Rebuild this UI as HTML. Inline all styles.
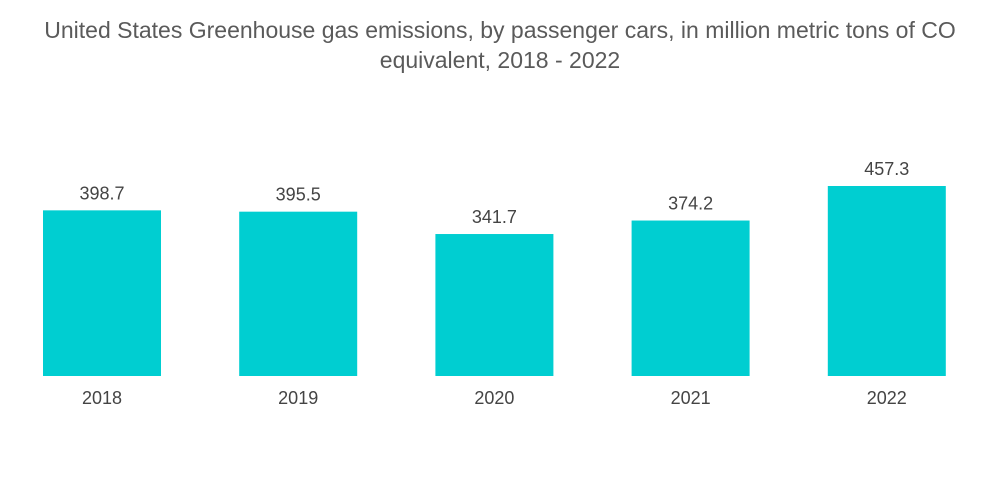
<!DOCTYPE html>
<html><head><meta charset="utf-8"><style>
body{margin:0;background:#fff;width:1000px;height:504px;overflow:hidden;font-family:"Liberation Sans",sans-serif}
#title{position:absolute;left:0;top:15px;width:1000px;text-align:center;color:#5a5a5a;font-size:23px;line-height:30px}
</style></head><body>
<div id="title">United States Greenhouse gas emissions, by passenger cars, in million metric tons of CO<br>equivalent, 2018 - 2022</div>
<svg id="chart" width="1000" height="504" style="position:absolute;left:0;top:0"></svg>
<script>
const categories=["2018","2019","2020","2021","2022"];
const values=[398.7,395.5,341.7,374.2,457.3];
const labels=["398.7","395.5","341.7","374.2","457.3"];
const svg=document.getElementById('chart');
const ns='http://www.w3.org/2000/svg';
const baseY=376,scale=190/457.3,x0=43,step=196.2,bw=118;
function xPos(i){return x0+i*step;}
function yPos(v){return baseY-v*scale;}
categories.forEach((c,i)=>{
 const r=document.createElementNS(ns,'rect');
 
 
 r.setAttribute('x',xPos(i));r.setAttribute('y',yPos(values[i]));
 r.setAttribute('width',bw);r.setAttribute('height',baseY-yPos(values[i]));
 r.setAttribute('fill','#00ced1');svg.appendChild(r);
 const t=document.createElementNS(ns,'text');
 
 
 t.setAttribute('x',xPos(i)+bw/2);t.setAttribute('y',yPos(values[i])-11);
 t.setAttribute('text-anchor','middle');t.setAttribute('font-size','18');t.setAttribute('fill','#444');
 t.textContent=labels[i];svg.appendChild(t);
 const a=document.createElementNS(ns,'text');
 
 
 a.setAttribute('x',xPos(i)+bw/2);a.setAttribute('y',404);
 a.setAttribute('text-anchor','middle');a.setAttribute('font-size','18');a.setAttribute('fill','#444');
 a.textContent=c;svg.appendChild(a);
});
</script>
</body></html>
